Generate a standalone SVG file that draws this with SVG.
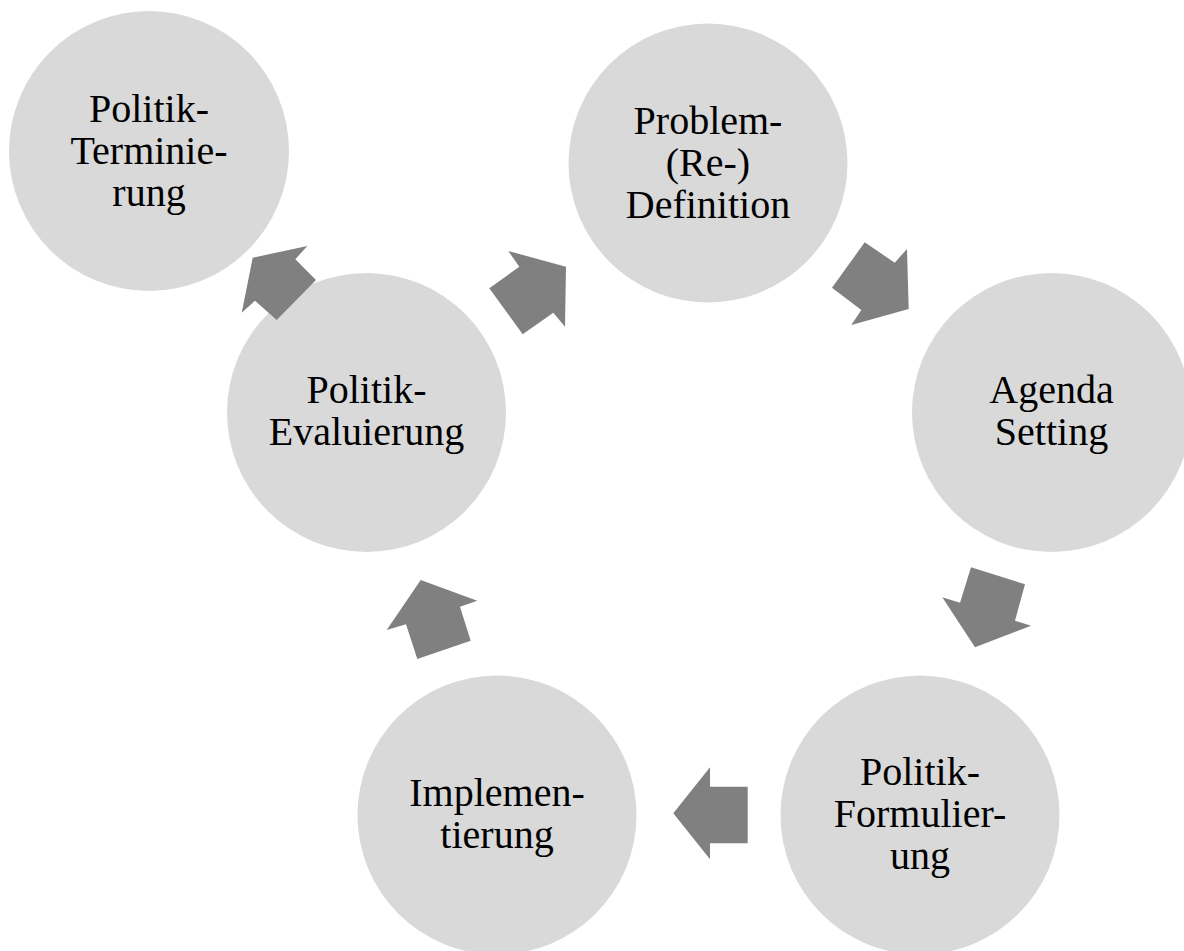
<svg xmlns="http://www.w3.org/2000/svg" width="1184" height="951" viewBox="0 0 1184 951">
  <style>
    .node circle { fill: #D9D9D9; }
    .node text { font-family: "Liberation Serif", "Times New Roman", serif; font-size: 40px; fill: #000000; text-anchor: middle; }
    .arrow { fill: #808080; }
  </style>
  <rect width="1184" height="951" fill="#FFFFFF"/>

  <!-- Stages of the policy cycle -->
  <g id="node-terminierung" class="node">
    <circle cx="149" cy="151" r="140"/>
    <text x="149" y="122">Politik-</text>
    <text x="149" y="164">Terminie-</text>
    <text x="149" y="206">rung</text>
  </g>

  <g id="node-problemdefinition" class="node">
    <circle cx="708" cy="163" r="139.5"/>
    <text x="708" y="134">Problem-</text>
    <text x="708" y="176">(Re-)</text>
    <text x="708" y="218">Definition</text>
  </g>

  <g id="node-agenda-setting" class="node">
    <circle cx="1051.5" cy="412.5" r="139.5"/>
    <text x="1051.5" y="402.5">Agenda</text>
    <text x="1051.5" y="444.5">Setting</text>
  </g>

  <g id="node-formulierung" class="node">
    <circle cx="920" cy="815" r="139.5"/>
    <text x="920" y="785">Politik-</text>
    <text x="920" y="827">Formulier-</text>
    <text x="920" y="869">ung</text>
  </g>

  <g id="node-implementierung" class="node">
    <circle cx="497" cy="815" r="139.5"/>
    <text x="497" y="805.5">Implemen-</text>
    <text x="497" y="847.5">tierung</text>
  </g>

  <g id="node-evaluierung" class="node">
    <circle cx="366.5" cy="412.5" r="139.5"/>
    <text x="366.5" y="403">Politik-</text>
    <text x="366.5" y="445">Evaluierung</text>
  </g>

  <!-- Block arrows between the stages -->
  <g id="connectors">
    <polygon id="arrow-evaluierung-terminierung" class="arrow" points="252.7,257.7 307.3,246 295.3,259.3 316,280 276.7,320 255,300.7 241.7,312.7"/>
    <polygon id="arrow-evaluierung-problem" class="arrow" points="566,266.7 565,326.7 553.3,312.7 522.7,334.3 489.3,288.3 519.3,266.7 508.3,251"/>
    <polygon id="arrow-problem-agenda" class="arrow" points="864.7,242.3 894.7,262.7 907,249 908.7,309 851.3,325 861.3,310 832,287.7"/>
    <polygon id="arrow-agenda-formulierung" class="arrow" points="971,567.3 1025,584.3 1015,620.7 1031,625.7 975,647.3 942.3,597.3 960,602.7"/>
    <polygon id="arrow-formulierung-implementierung" class="arrow" points="747.7,786.7 710,786.7 710,767.3 673.3,813.3 710,859.3 710,843.3 747.7,843.3"/>
    <polygon id="arrow-implementierung-evaluierung" class="arrow" points="420.7,580 477.3,600.7 460,606.7 470.7,640.7 417.3,659 406,624.3 386.7,630"/>
  </g>
</svg>
